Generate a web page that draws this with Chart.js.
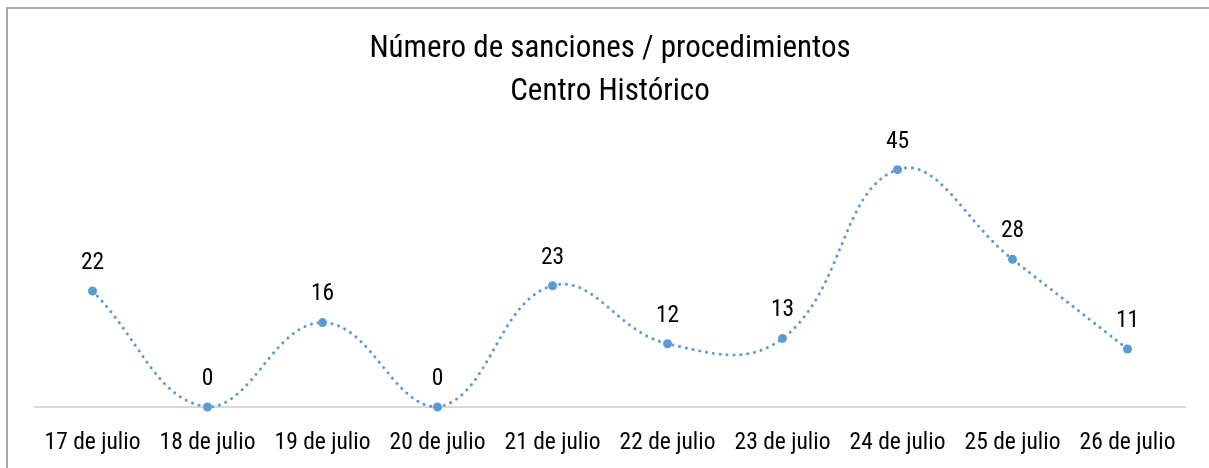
<!DOCTYPE html>
<html lang="es">
<head>
<meta charset="utf-8">
<title>Número de sanciones / procedimientos</title>
<script src="https://cdn.jsdelivr.net/npm/chart.js@4"></script>
<style>
  html, body { margin: 0; padding: 0; background: #fff; }
  #wrap { position: relative; width: 1209px; height: 468px; overflow: hidden; }
  #marco {
    position: absolute; left: 6px; top: 7px; right: -10px; bottom: -10px;
    border-left: 2px solid #a9a9a9; border-top: 2px solid #a9a9a9;
    pointer-events: none;
  }
</style>
</head>
<body>
<div id="wrap">
  <canvas id="grafico" width="1209" height="468"></canvas>
  <div id="marco"></div>
</div>
<script>
// Datos
const dias = ["17 de julio", "18 de julio", "19 de julio", "20 de julio", "21 de julio",
              "22 de julio", "23 de julio", "24 de julio", "25 de julio", "26 de julio"];
const sanciones = [22, 0, 16, 0, 23, 12, 13, 45, 28, 11];
const titulo = ["Número de sanciones / procedimientos", "Centro Histórico"];

const fuente = "'Roboto Condensed', Roboto, sans-serif";
const azul = "#5b9bd5";

// Etiquetas de valor sobre cada punto
const etiquetas = {
  id: "etiquetas",
  afterDatasetsDraw(chart) {
    const ctx = chart.ctx;
    const meta = chart.getDatasetMeta(0);
    ctx.save();
    ctx.font = "23.5px " + fuente;
    ctx.fillStyle = "#000";
    ctx.textAlign = "center";
    ctx.textBaseline = "middle";
    meta.data.forEach((p, i) => {
      ctx.fillText(String(sanciones[i]), p.x, p.y - 28);
    });
    ctx.restore();
  }
};

const ctx = document.getElementById("grafico").getContext("2d");
new Chart(ctx, {
  type: "line",
  data: {
    labels: dias,
    datasets: [{
      data: sanciones,
      borderColor: azul,
      backgroundColor: azul,
      borderWidth: 3,
      borderDash: [0.1, 6.8],
      borderCapStyle: "round",
      tension: 0.42,
      pointRadius: 4.5,
      pointBorderWidth: 0,
      pointBackgroundColor: azul,
      clip: false
    }]
  },
  options: {
    responsive: false,
    animation: false,
    layout: { padding: { left: 35, right: 24, top: 0, bottom: 0 } },
    plugins: {
      legend: { display: false },
      tooltip: { enabled: false },
      title: {
        display: true,
        text: titulo,
        color: "#000",
        font: { family: fuente, size: 31, weight: "normal", lineHeight: 1.4 },
        padding: { top: 27.5, bottom: 29 }
      }
    },
    scales: {
      x: {
        offset: true,
        grid: { display: false },
        border: { display: true, color: "#d9d9d9", width: 2 },
        ticks: { color: "#000", padding: 14, font: { family: fuente, size: 23.5 } },
        afterFit(scale) { scale.height = 61; }
      },
      y: {
        display: false,
        min: 0,
        max: 50
      }
    }
  },
  plugins: [etiquetas]
});
</script>
</body>
</html>
